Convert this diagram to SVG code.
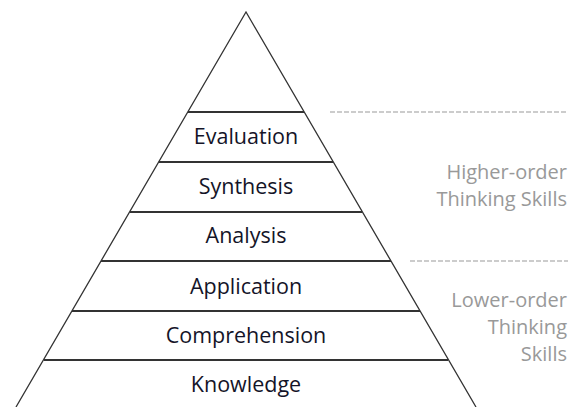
<svg xmlns="http://www.w3.org/2000/svg" width="568" height="407" viewBox="0 0 568 407">
<style>
.side{stroke:#333;stroke-width:1.3;fill:none}
.sep{stroke:#333;stroke-width:2}
.dash{stroke:#999;stroke-width:1;stroke-dasharray:5 2}
.lbl{font-family:"Open Sans",Lato,sans-serif;font-size:21.5px;fill:#141428;text-anchor:middle}
.note{font-family:"Open Sans",Lato,sans-serif;font-size:20px;fill:#999;text-anchor:end}
</style>
<rect width="568" height="407" fill="#fff"/>
<g id="pyramid">
<polyline class="side" points="16,407 246,12 476,407"/>
</g>
<g id="connectors">
<line class="dash" x1="330" y1="112" x2="568" y2="112"/>
<line class="dash" x1="410" y1="261" x2="568" y2="261"/>
</g>
<g id="evaluation"><line class="sep" x1="188" y1="112" x2="304" y2="112"/><text class="lbl" x="246" y="144">Evaluation</text></g>
<g id="synthesis"><line class="sep" x1="159" y1="162" x2="333" y2="162"/><text class="lbl" x="246" y="194">Synthesis</text></g>
<g id="analysis"><line class="sep" x1="130" y1="212" x2="362" y2="212"/><text class="lbl" x="246" y="243">Analysis</text></g>
<g id="application"><line class="sep" x1="101" y1="261" x2="391" y2="261"/><text class="lbl" x="246" y="294">Application</text></g>
<g id="comprehension"><line class="sep" x1="72" y1="311" x2="420" y2="311"/><text class="lbl" x="246" y="343">Comprehension</text></g>
<g id="knowledge"><line class="sep" x1="44" y1="360" x2="448" y2="360"/><text class="lbl" x="246" y="392">Knowledge</text></g>
<g id="higher"><text class="note" x="567" y="179">Higher-order</text><text class="note" x="567" y="206">Thinking Skills</text></g>
<g id="lower"><text class="note" x="567" y="307">Lower-order</text><text class="note" x="567" y="334">Thinking</text><text class="note" x="567" y="361">Skills</text></g>
</svg>
